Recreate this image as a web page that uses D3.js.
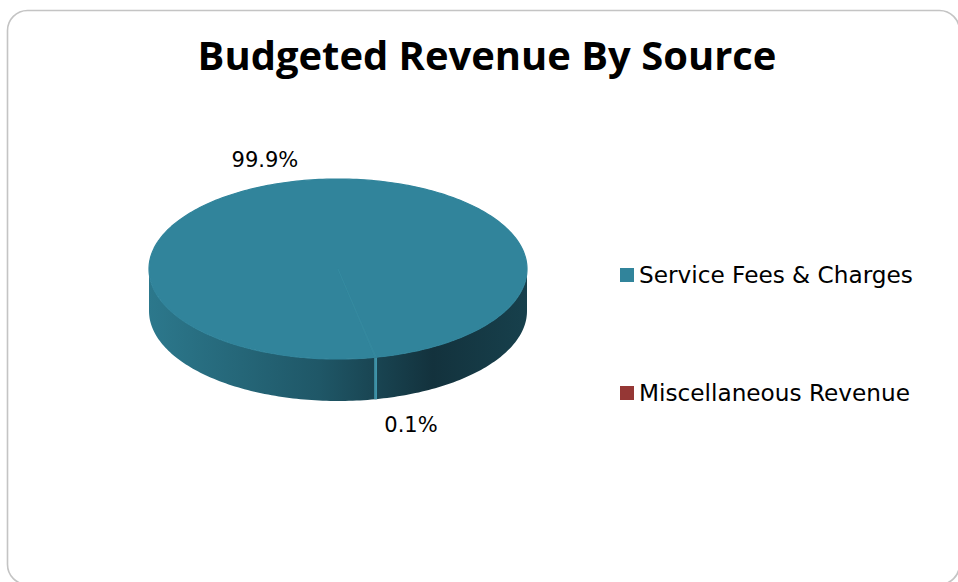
<!DOCTYPE html>
<html>
<head>
<meta charset="utf-8">
<script src="https://cdn.jsdelivr.net/npm/d3@7/dist/d3.min.js"></script>
<style>
  html, body { margin: 0; padding: 0; background: #ffffff; }
  svg { display: block; }
</style>
</head>
<body>
<svg id="chart" width="958" height="582"></svg>
<script>
// Revenue sources and their budget shares (percent)
const categories = ["Service Fees & Charges", "Miscellaneous Revenue"];
const shares = [99.9, 0.1];
const shareLabels = ["99.9%", "0.1%"];
const colors = ["#31849b", "#953735"];
const title = "Budgeted Revenue By Source";

const svg = d3.select("#chart");

// Rounded chart frame (its lower and right edges run just past the page)
svg.append("rect")
  .attr("x", 7.5).attr("y", 10.5)
  .attr("width", 952).attr("height", 574)
  .attr("rx", 20).attr("ry", 20)
  .attr("fill", "#ffffff")
  .attr("stroke", "#c4c4c4").attr("stroke-width", 1.6);

const titleText = svg.append("text")
  .attr("x", 487).attr("y", 70)
  .attr("text-anchor", "middle")
  .attr("font-family", "'Open Sans', 'DejaVu Sans', sans-serif")
  .attr("font-weight", "bold")
  .attr("font-size", 37)
  .attr("fill", "#000")
  .text(title);
// fit the title to its intended width
{
  const w = titleText.node().getComputedTextLength();
  titleText.attr("font-size", 37 * 579 / w);
}

// 3D pie geometry
const cx = 338, cy = 269, rx = 189, ry = 90, depth = 42;
const rotation = 168.7 * Math.PI / 180;

const pie = d3.pie().sort(null).value(d => d)
  .startAngle(rotation).endAngle(rotation + 2 * Math.PI);
const arcs = pie(shares);

const px = a => cx + rx * Math.sin(a);
const py = a => cy - ry * Math.cos(a);

const defs = svg.append("defs");
const grad = defs.append("linearGradient")
  .attr("id", "sideGrad")
  .attr("gradientUnits", "userSpaceOnUse")
  .attr("x1", cx - rx).attr("y1", 0)
  .attr("x2", cx + rx).attr("y2", 0);
grad.append("stop").attr("offset", "0%").attr("stop-color", "#2c788c");
grad.append("stop").attr("offset", "45%").attr("stop-color", "#1f5767");
grad.append("stop").attr("offset", "75%").attr("stop-color", "#13323d");
grad.append("stop").attr("offset", "100%").attr("stop-color", "#17404c");

const gradR = defs.append("linearGradient")
  .attr("id", "sideGradR")
  .attr("gradientUnits", "userSpaceOnUse")
  .attr("x1", cx - rx).attr("y1", 0)
  .attr("x2", cx + rx).attr("y2", 0);
gradR.append("stop").attr("offset", "0%").attr("stop-color", "#6e2524");
gradR.append("stop").attr("offset", "100%").attr("stop-color", "#3a1010");

// Side wall of a slice, limited to the front half (angles pi/2 .. 3pi/2)
function sidePath(a0, a1) {
  const segs = [];
  for (let k = -1; k <= 2; k++) {
    const lo = Math.PI / 2 + k * 2 * Math.PI, hi = 3 * Math.PI / 2 + k * 2 * Math.PI;
    const s = Math.max(a0, lo), e = Math.min(a1, hi);
    if (e > s) segs.push([s, e]);
  }
  return segs.map(([s, e]) => {
    const n = Math.max(2, Math.ceil((e - s) / 0.02));
    const top = d3.range(n + 1).map(i => s + (e - s) * i / n);
    const pts = top.map(a => [px(a), py(a)])
      .concat(top.slice().reverse().map(a => [px(a), py(a) + depth]));
    return "M" + pts.map(p => p.join(",")).join("L") + "Z";
  }).join("");
}

function topPath(a0, a1) {
  const n = Math.max(2, Math.ceil((a1 - a0) / 0.02));
  const pts = [[cx, cy]].concat(d3.range(n + 1).map(i => {
    const a = a0 + (a1 - a0) * i / n;
    return [px(a), py(a)];
  }));
  return "M" + pts.map(p => p.join(",")).join("L") + "Z";
}

const g = svg.append("g");

// sides
g.selectAll("path.side").data(arcs).join("path")
  .attr("class", "side")
  .attr("d", d => sidePath(d.startAngle, d.endAngle))
  .attr("fill", (d, i) => i === 0 ? "url(#sideGrad)" : "url(#sideGradR)");

// slice boundary edges on the wall
arcs.forEach(d => {
  const a = d.startAngle;
  if (Math.cos(a) < 0) {
    g.append("line")
      .attr("x1", px(a)).attr("y1", py(a))
      .attr("x2", px(a)).attr("y2", py(a) + depth)
      .attr("stroke", "#3f97ad").attr("stroke-width", 1.6);
  }
});

// tops, outlined in the face colour so the slice seams stay subtle
g.selectAll("path.top").data(arcs).join("path")
  .attr("class", "top")
  .attr("d", d => topPath(d.startAngle, d.endAngle))
  .attr("fill", (d, i) => colors[i])
  .attr("stroke", colors[0]).attr("stroke-width", 1.2)
  .attr("stroke-linejoin", "round");

// faint radial seam on the top face
arcs.forEach(d => {
  g.append("line")
    .attr("x1", cx).attr("y1", cy)
    .attr("x2", px(d.startAngle)).attr("y2", py(d.startAngle))
    .attr("stroke", "#3990a6").attr("stroke-width", 0.8).attr("opacity", 0.5);
});

// percentage labels outside the slices
const labelK = 1.25;
const nudges = [[-26, 8], [26, 11]];
svg.selectAll("text.pct").data(arcs).join("text")
  .attr("class", "pct")
  .attr("x", (d, i) => cx + rx * labelK * Math.sin((d.startAngle + d.endAngle) / 2) + nudges[i][0])
  .attr("y", (d, i) => {
    const m = (d.startAngle + d.endAngle) / 2;
    return cy - ry * labelK * Math.cos(m) + (Math.cos(m) < 0 ? depth : 0) + nudges[i][1];
  })
  .attr("text-anchor", "middle")
  .attr("font-family", "'DejaVu Sans', Verdana, sans-serif")
  .attr("font-size", 21)
  .attr("fill", "#000")
  .text((d, i) => shareLabels[i]);

// legend
const legend = svg.append("g");
const ly = d3.scalePoint().domain(categories).range([275, 393]);
legend.selectAll("rect").data(categories).join("rect")
  .attr("x", 620).attr("y", d => ly(d) - 7)
  .attr("width", 14).attr("height", 14)
  .attr("fill", (d, i) => colors[i]);
legend.selectAll("text").data(categories).join("text")
  .attr("x", 639).attr("y", d => ly(d) + 8)
  .attr("font-family", "'DejaVu Sans', Verdana, sans-serif")
  .attr("font-size", 23.2)
  .attr("fill", "#000")
  .text(d => d);
</script>
</body>
</html>
